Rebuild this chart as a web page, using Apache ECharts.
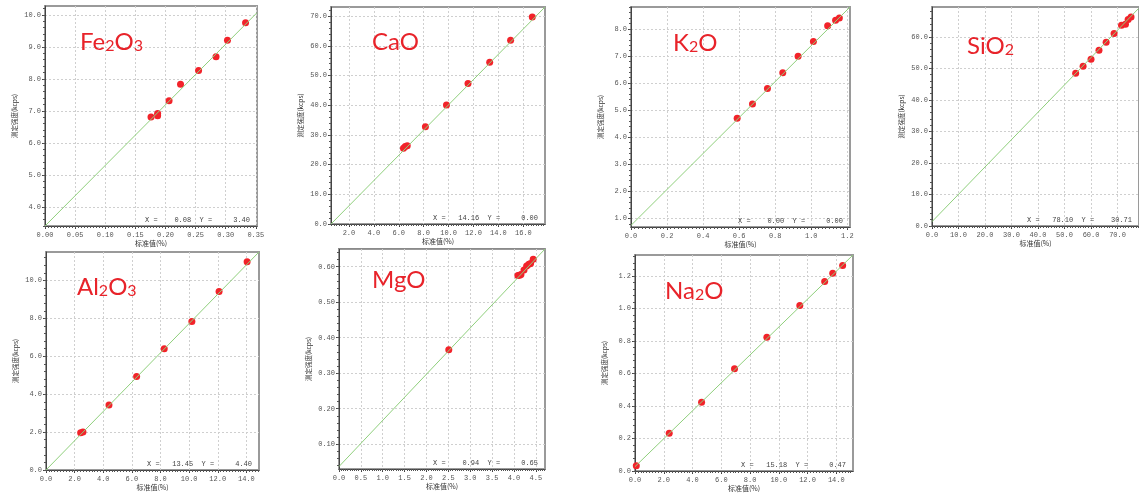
<!DOCTYPE html>
<html>
<head>
<meta charset="utf-8">
<script src="https://cdn.jsdelivr.net/npm/echarts@6/dist/echarts.min.js"></script>
<style>
  html, body { margin: 0; padding: 0; background: #fff; }
  #chart { width: 1139px; height: 493px; }
</style>
</head>
<body>
<div id="chart"></div>
<script>
// ---- data ----
const fe2o3X = [0.176, 0.187, 0.187, 0.206, 0.225, 0.255, 0.284, 0.303, 0.333];
const fe2o3Y = [6.81, 6.85, 6.92, 7.32, 7.83, 8.26, 8.69, 9.21, 9.76];
const fe2o3Fit = [[0, 3.40], [0.352, 10.07]];
const fe2o3XTicks = [0, 0.05, 0.10, 0.15, 0.20, 0.25, 0.30, 0.35];
const fe2o3YTicks = [4, 5, 6, 7, 8, 9, 10];

const caoX = [6.38, 6.52, 6.68, 8.14, 9.83, 11.56, 13.30, 14.98, 16.72];
const caoY = [25.5, 26.1, 26.4, 32.8, 40.1, 47.3, 54.5, 61.9, 69.7];
const caoFit = [[0.56, 0], [17.74, 73.1]];
const caoXTicks = [2, 4, 6, 8, 10, 12, 14, 16];
const caoYTicks = [0, 10, 20, 30, 40, 50, 60, 70];

const k2oX = [0.589, 0.674, 0.757, 0.842, 0.927, 1.012, 1.091, 1.135, 1.156];
const k2oY = [4.70, 5.23, 5.80, 6.38, 6.99, 7.54, 8.12, 8.32, 8.40];
const k2oFit = [[0, 0.75], [1.215, 8.81]];
const k2oXTicks = [0, 0.2, 0.4, 0.6, 0.8, 1.0, 1.2];
const k2oYTicks = [1, 2, 3, 4, 5, 6, 7, 8];

const sio2X = [54.2, 57.0, 60.0, 63.0, 65.7, 68.7, 71.5, 73.0, 74.0, 75.1];
const sio2Y = [48.5, 50.7, 52.9, 55.8, 58.3, 61.1, 63.7, 64.0, 65.5, 66.3];
const sio2Fit = [[0, 1.37], [77.9, 69.0]];
const sio2XTicks = [0, 10, 20, 30, 40, 50, 60, 70];
const sio2YTicks = [0, 10, 20, 30, 40, 50, 60];

const al2o3X = [2.42, 2.58, 4.40, 6.33, 8.26, 10.19, 12.09, 14.05];
const al2o3Y = [1.96, 2.01, 3.43, 4.93, 6.40, 7.84, 9.42, 10.99];
const al2o3Fit = [[0, 0], [14.88, 11.5]];
const al2o3XTicks = [0, 2, 4, 6, 8, 10, 12, 14];
const al2o3YTicks = [0, 2, 4, 6, 8, 10];

const mgoX = [2.51, 4.09, 4.13, 4.16, 4.23, 4.29, 4.34, 4.38, 4.44];
const mgoY = [0.366, 0.575, 0.576, 0.578, 0.591, 0.602, 0.607, 0.609, 0.621];
const mgoFit = [[0, 0.037], [4.71, 0.65]];
const mgoXTicks = [0, 0.5, 1.0, 1.5, 2.0, 2.5, 3.0, 3.5, 4.0, 4.5];
const mgoYTicks = [0.1, 0.2, 0.3, 0.4, 0.5, 0.6];

const na2oX = [0.09, 2.38, 4.63, 6.92, 9.17, 11.46, 13.19, 13.75, 14.44];
const na2oY = [0.033, 0.233, 0.424, 0.630, 0.823, 1.019, 1.167, 1.217, 1.266];
const na2oFit = [[0, 0.027], [15.16, 1.33]];
const na2oXTicks = [0, 2, 4, 6, 8, 10, 12, 14];
const na2oYTicks = [0, 0.2, 0.4, 0.6, 0.8, 1.0, 1.2];

const statLabels = [
  ['0.08', '3.40'], ['14.16', '0.00'], ['0.00', '0.00'], ['78.10', '30.71'],
  ['13.45', '4.40'], ['0.94', '0.65'], ['15.18', '0.47']
];

// ---- panel layout ----
const panels = [
  { title: '{a|Fe}{s|2}{a|O}{s|3}', tx: 80, ty: 40, box: [45, 6, 257, 226],
    xs: fe2o3X, ys: fe2o3Y, fit: fe2o3Fit, xt: fe2o3XTicks, yt: fe2o3YTicks,
    xr: [0, 0.352], yr: [3.4, 10.28], xd: 2, yd: 1 },
  { title: '{a|CaO}', tx: 372, ty: 40, box: [331, 7, 545, 224],
    xs: caoX, ys: caoY, fit: caoFit, xt: caoXTicks, yt: caoYTicks,
    xr: [0.56, 17.74], yr: [0, 73.1], xd: 1, yd: 1 },
  { title: '{a|K}{s|2}{a|O}', tx: 673, ty: 41, box: [631, 7, 850, 227],
    xs: k2oX, ys: k2oY, fit: k2oFit, xt: k2oXTicks, yt: k2oYTicks,
    xr: [0, 1.215], yr: [0.69, 8.81], xd: 1, yd: 1 },
  { title: '{a|SiO}{s|2}', tx: 967, ty: 44, box: [932, 7, 1141, 226],
    xs: sio2X, ys: sio2Y, fit: sio2Fit, xt: sio2XTicks, yt: sio2YTicks,
    xr: [0, 78.1], yr: [0, 69.5], xd: 1, yd: 1 },
  { title: '{a|Al}{s|2}{a|O}{s|3}', tx: 77, ty: 285, box: [46, 252, 259, 470],
    xs: al2o3X, ys: al2o3Y, fit: al2o3Fit, xt: al2o3XTicks, yt: al2o3YTicks,
    xr: [0, 14.88], yr: [0, 11.5], xd: 1, yd: 1 },
  { title: '{a|MgO}', tx: 372, ty: 278, box: [339, 249, 545, 469],
    xs: mgoX, ys: mgoY, fit: mgoFit, xt: mgoXTicks, yt: mgoYTicks,
    xr: [0, 4.71], yr: [0.03, 0.65], xd: 1, yd: 2 },
  { title: '{a|Na}{s|2}{a|O}', tx: 665, ty: 289, box: [635, 255, 853, 471],
    xs: na2oX, ys: na2oY, fit: na2oFit, xt: na2oXTicks, yt: na2oYTicks,
    xr: [0, 15.16], yr: [0, 1.33], xd: 1, yd: 1 }
];

const monoFont = '"Liberation Mono", "DejaVu Sans Mono", monospace';
const cjkFont = '"Noto Sans CJK SC", sans-serif';
const titleFont = 'Lato, "Open Sans", sans-serif';

// minor tick values between the labelled ones
function minorTicks(ticks, range, parts) {
  const step = (ticks[1] - ticks[0]) / parts;
  const out = [];
  const start = ticks[0] - Math.floor((ticks[0] - range[0]) / step) * step;
  for (let v = start; v <= range[1] + 1e-9; v += step) {
    out.push(Math.round(v * 1e6) / 1e6);
  }
  return out;
}

const grid = [], xAxis = [], yAxis = [], series = [], graphic = [];

panels.forEach((p, i) => {
  const [l, t, r, b] = p.box;
  grid.push({
    left: l, top: t, width: r - l, height: b - t,
    show: true, borderColor: '#9a9a9a', borderWidth: 2, backgroundColor: '#fff'
  });

  const axisBase = {
    type: 'value', gridIndex: i,
    axisLine: { show: true, onZero: false, lineStyle: { color: '#444', width: 1 } }
  };

  xAxis.push(Object.assign({}, axisBase, {
    min: p.xr[0], max: p.xr[1],
    name: '标准值(%)', nameLocation: 'middle', nameGap: 13,
    nameTextStyle: { fontFamily: cjkFont, fontSize: 7, color: '#333' },
    axisTick: { show: true, length: 3, customValues: p.xt, lineStyle: { color: '#444' } },
    axisLabel: {
      customValues: p.xt, margin: 6, fontFamily: monoFont, fontSize: 7, color: '#555',
      formatter: v => v.toFixed(p.xd)
    },
    splitLine: { show: true, lineStyle: { color: '#cfcfcf', type: [2, 2], width: 1 } }
  }));
  xAxis.push({
    type: 'value', gridIndex: i, position: 'bottom', min: p.xr[0], max: p.xr[1],
    axisLine: { show: false },
    axisTick: { show: true, length: 2, customValues: minorTicks(p.xt, p.xr, 10), lineStyle: { color: '#555' } },
    axisLabel: { show: false }, splitLine: { show: false }
  });

  yAxis.push(Object.assign({}, axisBase, {
    min: p.yr[0], max: p.yr[1],
    name: '测定强度(kcps)', nameLocation: 'middle', nameGap: 27,
    nameTextStyle: { fontFamily: cjkFont, fontSize: 6.5, color: '#333' },
    axisTick: { show: true, length: 3, customValues: p.yt, lineStyle: { color: '#444' } },
    axisLabel: {
      customValues: p.yt, margin: 4, fontFamily: monoFont, fontSize: 7, color: '#555',
      formatter: v => v.toFixed(p.yd)
    },
    splitLine: { show: true, lineStyle: { color: '#cfcfcf', type: [2, 2], width: 1 } }
  }));
  yAxis.push({
    type: 'value', gridIndex: i, position: 'left', min: p.yr[0], max: p.yr[1],
    axisLine: { show: false },
    axisTick: { show: true, length: 2, customValues: minorTicks(p.yt, p.yr, 5), lineStyle: { color: '#555' } },
    axisLabel: { show: false }, splitLine: { show: false }
  });

  series.push({
    type: 'line', xAxisIndex: 2 * i, yAxisIndex: 2 * i,
    data: p.fit, symbol: 'none', clip: true, silent: true,
    lineStyle: { color: '#8fcf7c', width: 1 }
  });
  series.push({
    type: 'scatter', xAxisIndex: 2 * i, yAxisIndex: 2 * i,
    data: p.xs.map((x, k) => [x, p.ys[k]]),
    symbolSize: 7, itemStyle: { color: '#f2232a', opacity: 1 }
  });

  // title in red
  graphic.push({
    type: 'text', x: p.tx, y: p.ty, z: 10,
    style: {
      text: p.title, verticalAlign: 'middle',
      rich: {
        a: { fontFamily: titleFont, fontSize: 24, fill: '#e8232a', verticalAlign: 'bottom', lineHeight: 28 },
        s: { fontFamily: titleFont, fontSize: 16, fill: '#e8232a', verticalAlign: 'bottom', lineHeight: 28 }
      }
    }
  });

  // X = ... Y = ... readout
  const [sx, sy] = statLabels[i];
  graphic.push({
    type: 'text', x: Math.min(r, 1139) - 7, y: b - 6, z: 10,
    style: {
      text: 'X =' + sx.padStart(8) + '  Y =' + sy.padStart(9),
      align: 'right', verticalAlign: 'middle',
      fontFamily: monoFont, fontSize: 7, fill: '#444'
    }
  });
});

graphic.push({
  type: 'line', z: 10,
  shape: { x1: 338, y1: 248.5, x2: 545, y2: 248.5 },
  style: { stroke: '#8a8a8a', lineWidth: 1 }
});

const chart = echarts.init(document.getElementById('chart'));
chart.setOption({
  backgroundColor: '#fff',
  animation: false,
  grid: grid,
  xAxis: xAxis,
  yAxis: yAxis,
  series: series,
  graphic: graphic
});
</script>
</body>
</html>
